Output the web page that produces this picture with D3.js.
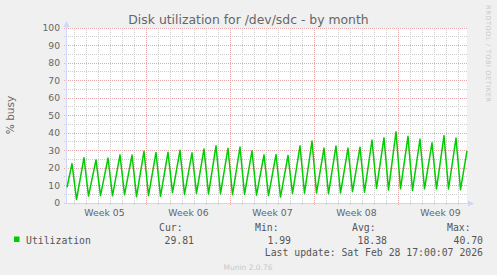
<!DOCTYPE html>
<html>
<head>
<meta charset="utf-8">
<script src="https://cdn.jsdelivr.net/npm/d3@7"></script>
<style>
  html, body { margin: 0; padding: 0; background: #f0f0f0; }
  svg { display: block; }
  text { font-family: "DejaVu Sans", sans-serif; fill: #666; }
  .mono { font-family: "DejaVu Sans Mono", monospace; font-size: 9.8px; fill: #555; }
</style>
</head>
<body>
<div id="chart"></div>
<script>
// samples: daily low (early morning) and high (evening)
const sampleTimes = [
    "2026-01-26T09:00", "2026-01-26T19:00", "2026-01-27T04:00", "2026-01-27T19:00",
    "2026-01-28T04:00", "2026-01-28T19:00", "2026-01-29T04:00", "2026-01-29T19:00",
    "2026-01-30T04:00", "2026-01-30T19:00", "2026-01-31T04:00", "2026-01-31T19:00",
    "2026-02-01T04:00", "2026-02-01T19:00", "2026-02-02T04:00", "2026-02-02T19:00",
    "2026-02-03T04:00", "2026-02-03T19:00", "2026-02-04T04:00", "2026-02-04T19:00",
    "2026-02-05T04:00", "2026-02-05T19:00", "2026-02-06T04:00", "2026-02-06T19:00",
    "2026-02-07T04:00", "2026-02-07T19:00", "2026-02-08T04:00", "2026-02-08T19:00",
    "2026-02-09T04:00", "2026-02-09T19:00", "2026-02-10T04:00", "2026-02-10T19:00",
    "2026-02-11T04:00", "2026-02-11T19:00", "2026-02-12T04:00", "2026-02-12T19:00",
    "2026-02-13T04:00", "2026-02-13T19:00", "2026-02-14T04:00", "2026-02-14T19:00",
    "2026-02-15T04:00", "2026-02-15T19:00", "2026-02-16T04:00", "2026-02-16T19:00",
    "2026-02-17T04:00", "2026-02-17T19:00", "2026-02-18T04:00", "2026-02-18T19:00",
    "2026-02-19T04:00", "2026-02-19T19:00", "2026-02-20T04:00", "2026-02-20T19:00",
    "2026-02-21T04:00", "2026-02-21T19:00", "2026-02-22T04:00", "2026-02-22T19:00",
    "2026-02-23T04:00", "2026-02-23T19:00", "2026-02-24T04:00", "2026-02-24T19:00",
    "2026-02-25T04:00", "2026-02-25T19:00", "2026-02-26T04:00", "2026-02-26T19:00",
    "2026-02-27T04:00", "2026-02-27T19:00", "2026-02-28T04:00", "2026-02-28T17:00"
];
const utilization = [
    9.0, 22.5, 2.0, 25.9,
    4.0, 24.6, 4.2, 25.7,
    4.1, 27.5, 4.7, 27.4,
    3.6, 29.6, 4.2, 28.9,
    3.8, 29.0, 5.9, 30.1,
    4.9, 28.7, 5.5, 30.9,
    5.2, 32.7, 5.3, 31.3,
    4.7, 32.0, 5.0, 29.8,
    4.5, 27.5, 4.2, 27.7,
    3.4, 27.2, 5.5, 32.7,
    5.6, 35.4, 5.7, 31.4,
    5.3, 32.6, 5.7, 31.4,
    6.5, 31.9, 6.2, 36.0,
    8.4, 37.3, 7.5, 40.7,
    8.1, 38.1, 7.2, 36.5,
    8.1, 34.4, 8.1, 38.5,
    8.0, 37.1, 7.6, 29.8
];
const yTicks = [0, 10, 20, 30, 40, 50, 60, 70, 80, 90, 100];
const legendStats = [
    { label: "Cur:", value: "29.81" },
    { label: "Min:", value: "1.99" },
    { label: "Avg:", value: "18.38" },
    { label: "Max:", value: "40.70" }
];
const lastUpdate = "Last update: Sat Feb 28 17:00:07 2026";

const width = 497, height = 275;
const plotLeft = 67, plotRight = 467, plotTop = 28, plotBottom = 203;

const parse = d3.utcParse("%Y-%m-%dT%H:%M");
const data = sampleTimes.map((t, i) => ({ t: parse(t), v: utilization[i] }));

const end = new Date(Date.UTC(2026, 1, 28, 17, 0, 7));
const start = new Date(end.getTime() - 400 * 7200 * 1000);

const x = d3.scaleTime().domain([start, end]).range([plotLeft, plotRight]);
const y = d3.scaleLinear().domain([0, 100]).range([plotBottom, plotTop]);

const snap = v => Math.floor(v) + 0.5;

const svg = d3.select('#chart').append('svg')
    .attr('width', width)
    .attr('height', height);

svg.append('rect')
    .attr('width', width).attr('height', height)
    .attr('fill', '#f0f0f0');

svg.append('rect')
    .attr('x', plotLeft).attr('y', plotTop)
    .attr('width', plotRight - plotLeft).attr('height', plotBottom - plotTop)
    .attr('fill', '#ffffff');

// grid
const minorY = d3.range(5, 100, 10);
const days = d3.utcDay.range(start, end);
const weeks = d3.utcMonday.range(start, end);

const grid = svg.append('g');

grid.selectAll('.hmin').data(minorY).enter().append('line')
    .attr('x1', plotLeft - 3).attr('x2', plotRight)
    .attr('y1', d => snap(y(d))).attr('y2', d => snap(y(d)))
    .attr('stroke', '#cdcdcd').attr('stroke-dasharray', '1,1');

grid.selectAll('.vmin').data(days).enter().append('line')
    .attr('x1', d => snap(x(d))).attr('x2', d => snap(x(d)))
    .attr('y1', plotTop).attr('y2', plotBottom + 2)
    .attr('stroke', '#cdcdcd').attr('stroke-dasharray', '1,1');

grid.selectAll('.hmaj').data(yTicks.slice(1)).enter().append('line')
    .attr('x1', plotLeft - 3).attr('x2', plotRight)
    .attr('y1', d => snap(y(d))).attr('y2', d => snap(y(d)))
    .attr('stroke', '#e6a8a8').attr('stroke-dasharray', '1,1');

grid.selectAll('.vmaj').data(weeks).enter().append('line')
    .attr('x1', d => snap(x(d))).attr('x2', d => snap(x(d)))
    .attr('y1', plotTop).attr('y2', plotBottom + 3)
    .attr('stroke', '#e6a8a8').attr('stroke-dasharray', '1,1');

// y labels
svg.selectAll('.ylab').data(yTicks).enter().append('text')
    .attr('x', 60)
    .attr('y', d => y(d) + 3.4)
    .attr('text-anchor', 'end')
    .style('font-size', '9.2px')
    .text(d => d);

// week labels centred on the middle of each week
const weekMids = d3.utcMonday.range(d3.utcMonday.floor(start), end)
    .map(d => d3.utcHour.offset(d, 84))
    .filter(d => d >= start && d <= end);

svg.selectAll('.xlab').data(weekMids).enter().append('text')
    .attr('x', d => x(d))
    .attr('y', 216)
    .attr('text-anchor', 'middle')
    .style('font-size', '9.3px')
    .text(d => d3.utcFormat("Week %V")(d));

// axes
const axisColor = '#cfd6f8';
svg.append('line')
    .attr('x1', plotLeft - 0.5).attr('x2', plotLeft - 0.5)
    .attr('y1', plotBottom + 1).attr('y2', plotTop - 2)
    .attr('stroke', axisColor);
svg.append('path')
    .attr('d', `M${plotLeft - 0.5},21 L${plotLeft - 3.5},27 L${plotLeft + 2.5},27 Z`)
    .attr('fill', axisColor);
svg.append('line')
    .attr('x1', plotLeft - 3).attr('x2', plotRight + 2)
    .attr('y1', plotBottom + 0.5).attr('y2', plotBottom + 0.5)
    .attr('stroke', axisColor);
svg.append('path')
    .attr('d', `M${plotRight + 7},${plotBottom + 0.5} L${plotRight + 1},${plotBottom - 2.5} L${plotRight + 1},${plotBottom + 3.5} Z`)
    .attr('fill', axisColor);

// series
const line = d3.line()
    .x(d => x(d.t))
    .y(d => y(d.v));

svg.append('path')
    .datum(data)
    .attr('d', line)
    .attr('fill', 'none')
    .attr('stroke', '#00cc00')
    .attr('stroke-width', 1.5)
    .attr('stroke-linejoin', 'round');

// title and side texts
svg.append('text')
    .attr('x', 248.5).attr('y', 24)
    .attr('text-anchor', 'middle')
    .style('font-size', '12.4px')
    .text('Disk utilization for /dev/sdc - by month');

svg.append('text')
    .attr('transform', 'translate(14,115) rotate(-90)')
    .attr('text-anchor', 'middle')
    .style('font-size', '10.5px')
    .text('% busy');

svg.append('text')
    .attr('transform', 'translate(486,5) rotate(90)')
    .attr('textLength', 97)
    .style('font-size', '6.5px')
    .style('fill', '#c8c8c8')
    .text('RRDTOOL / TOBI OETIKER');

svg.append('text')
    .attr('x', 248).attr('y', 270)
    .attr('text-anchor', 'middle')
    .style('font-size', '7.5px')
    .style('fill', '#c8c8c8')
    .text('Munin 2.0.76');

// legend
svg.append('rect')
    .attr('x', 14).attr('y', 236.5)
    .attr('width', 5.5).attr('height', 5.5)
    .attr('fill', '#00cc00');

svg.append('text').attr('class', 'mono')
    .attr('x', 26).attr('y', 243.5)
    .text('Utilization');

const headX = [159, 255, 352, 447];
const valueRight = [194, 291, 387, 483];

svg.selectAll('.lhead').data(legendStats).enter().append('text')
    .attr('class', 'mono')
    .attr('x', (d, i) => headX[i]).attr('y', 231)
    .text(d => d.label);

svg.selectAll('.lval').data(legendStats).enter().append('text')
    .attr('class', 'mono')
    .attr('x', (d, i) => valueRight[i]).attr('y', 243.5)
    .attr('text-anchor', 'end')
    .text(d => d.value);

svg.append('text').attr('class', 'mono')
    .attr('x', 483).attr('y', 256)
    .attr('text-anchor', 'end')
    .text(lastUpdate);
</script>
</body>
</html>
